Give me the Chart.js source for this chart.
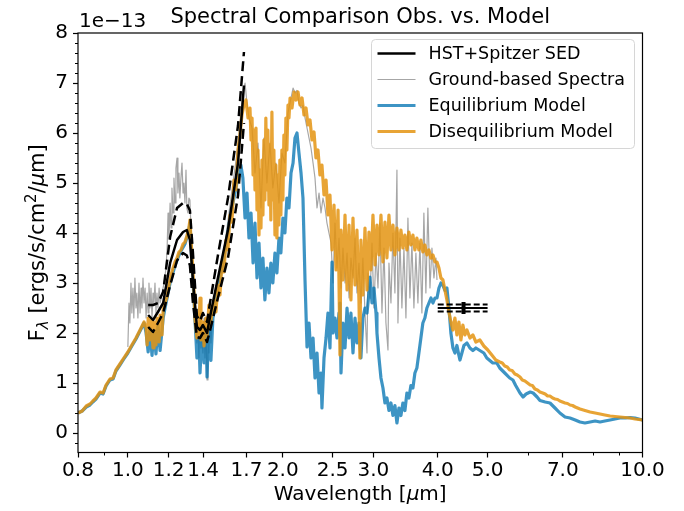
<!DOCTYPE html>
<html>
<head>
<meta charset="utf-8">
<script src="https://cdn.jsdelivr.net/npm/chart.js@4.4.1/dist/chart.umd.min.js"></script>
<style>
  html, body { margin: 0; padding: 0; background: #fff; }
  canvas { display: block; }
</style>
</head>
<body>
<canvas id="myChart" width="684" height="511"></canvas>
<script>
// =====================
// DATA, units: micron, 1e-13 ergs/s/cm^2/micron
// =====================

// disequilibrium model [wavelength, flux]
const diseqModel = [
  [0.800,0.40],[0.815,0.44],[0.830,0.54],[0.844,0.58],[0.855,0.64],[0.867,0.70],[0.883,0.82],[0.895,0.80],
  [0.907,0.96],[0.923,1.08],[0.936,1.10],[0.948,1.26],[0.965,1.38],[0.982,1.50],[1.000,1.62],[1.018,1.76],
  [1.037,1.90],[1.056,2.06],[1.075,2.22],[1.085,2.10],[1.090,1.76],[1.095,2.30],[1.104,1.86],[1.109,2.26],
  [1.119,1.70],[1.124,2.22],[1.134,1.76],[1.139,2.30],[1.150,1.82],[1.155,2.36],[1.165,1.96],[1.171,2.46],
  [1.181,2.60],[1.192,2.74],[1.202,2.96],[1.213,3.16],[1.224,3.30],[1.235,3.42],[1.246,3.50],[1.257,3.62],
  [1.268,3.66],[1.280,3.78],[1.291,3.82],[1.302,3.94],[1.314,4.10],[1.320,4.26],[1.326,3.90],[1.332,3.56],
  [1.344,2.86],[1.350,2.30],[1.362,1.90],[1.374,2.16],[1.381,2.70],[1.387,1.86],[1.399,2.22],[1.406,1.74],
  [1.418,2.30],[1.425,1.94],[1.437,2.56],[1.444,2.10],[1.457,2.42],[1.470,2.66],[1.483,2.42],[1.496,2.96],
  [1.510,2.76],[1.524,3.42],[1.537,3.22],[1.551,3.86],[1.565,3.66],[1.579,4.36],[1.593,4.22],[1.608,5.06],
  [1.622,4.86],[1.637,5.66],[1.651,5.96],[1.666,6.36],[1.681,6.56],[1.696,6.66],[1.712,6.30],[1.727,6.50],
  [1.735,5.86],[1.743,6.30],[1.751,5.16],[1.758,6.06],[1.766,4.86],[1.774,6.10],[1.782,4.46],[1.790,5.66],
  [1.798,3.96],[1.806,5.26],[1.814,4.10],[1.822,5.46],[1.830,4.36],[1.838,5.86],[1.846,4.66],[1.854,6.30],
  [1.863,4.86],[1.871,6.06],[1.880,4.56],[1.888,5.76],[1.896,4.26],[1.905,6.42],[1.913,4.66],[1.922,5.66],
  [1.931,3.96],[1.939,5.36],[1.948,3.90],[1.957,5.16],[1.966,4.16],[1.974,5.46],[1.983,4.36],[1.992,5.66],
  [2.001,4.66],[2.010,5.96],[2.019,5.16],[2.028,6.30],[2.037,5.66],[2.047,6.56],[2.056,6.30],[2.066,6.70],
  [2.084,6.50],[2.103,6.82],[2.122,6.66],[2.141,6.82],[2.160,6.56],[2.180,6.70],[2.199,6.36],[2.219,6.50],
  [2.239,6.16],[2.259,6.26],[2.279,5.86],[2.300,6.02],[2.320,5.50],[2.341,5.66],[2.362,5.16],[2.383,5.36],
  [2.405,4.76],[2.427,5.06],[2.448,4.36],[2.470,4.76],[2.493,3.66],[2.515,4.56],[2.538,3.26],[2.561,4.46],
  [2.583,1.56],[2.595,4.06],[2.618,3.06],[2.642,4.36],[2.666,2.86],[2.690,4.16],[2.713,2.66],[2.738,4.30],
  [2.763,2.96],[2.787,4.06],[2.812,2.66],[2.824,1.50],[2.837,3.86],[2.862,2.76],[2.889,4.10],[2.915,2.86],
  [2.941,4.02],[2.967,3.26],[2.994,4.36],[3.021,3.36],[3.048,4.16],[3.076,3.56],[3.103,4.36],[3.131,3.42],
  [3.159,4.22],[3.187,3.50],[3.216,4.36],[3.245,3.66],[3.274,4.16],[3.303,3.56],[3.333,4.10],[3.363,3.66],
  [3.393,4.06],[3.423,3.70],[3.454,3.96],[3.485,3.66],[3.516,4.02],[3.548,3.76],[3.580,3.96],[3.612,3.66],
  [3.644,3.90],[3.677,3.66],[3.710,3.86],[3.743,3.62],[3.777,3.76],[3.811,3.56],[3.846,3.66],[3.881,3.50],
  [3.916,3.56],[3.951,3.42],[3.987,3.42],[4.022,3.30],[4.058,3.10],[4.095,3.06],[4.131,2.86],[4.168,2.66],
  [4.206,2.42],[4.243,2.22],[4.282,2.06],[4.320,2.30],[4.359,1.96],[4.398,2.22],[4.438,1.86],[4.477,2.16],
  [4.518,1.96],[4.559,2.06],[4.620,1.90],[4.682,1.96],[4.745,1.82],[4.830,1.86],[4.917,1.74],[5.005,1.66],
  [5.096,1.56],[5.187,1.46],[5.280,1.42],[5.34,1.40],[5.40,1.34],[5.46,1.32],[5.52,1.26],[5.58,1.25],
  [5.65,1.18],[5.71,1.16],[5.78,1.12],[5.84,1.06],[5.91,1.04],[5.98,1.00],[6.05,0.96],[6.11,0.95],
  [6.18,0.88],[6.25,0.86],[6.32,0.82],[6.40,0.80],[6.47,0.78],[6.54,0.74],[6.61,0.74],[6.69,0.70],
  [6.76,0.68],[6.84,0.67],[6.91,0.64],[6.99,0.62],[7.07,0.60],[7.15,0.59],[7.23,0.56],[7.31,0.55],
  [7.40,0.52],[7.48,0.50],[7.56,0.48],[7.73,0.45],[7.91,0.42],[8.09,0.40],[8.27,0.38],[8.45,0.36],
  [8.65,0.34],[8.84,0.33],[9.04,0.32],[9.25,0.31],[9.46,0.30],[9.67,0.28],[10.0,0.26]
];

// equilibrium model [wavelength, flux]
const equilModel = [
  [0.800,0.40],[0.815,0.44],[0.830,0.52],[0.844,0.56],[0.855,0.62],[0.867,0.68],[0.883,0.80],[0.895,0.78],
  [0.907,0.94],[0.923,1.06],[0.936,1.08],[0.948,1.24],[0.965,1.36],[0.982,1.48],[1.000,1.60],[1.018,1.74],
  [1.037,1.88],[1.056,2.04],[1.075,2.20],[1.085,2.00],[1.095,1.62],[1.104,2.10],[1.114,1.55],[1.124,2.05],
  [1.134,1.58],[1.144,2.15],[1.155,1.65],[1.165,2.05],[1.171,2.30],[1.181,2.50],[1.208,3.00],[1.235,3.35],
  [1.262,3.60],[1.291,3.78],[1.314,4.05],[1.320,4.20],[1.332,3.40],[1.344,2.70],[1.356,1.90],[1.362,1.50],
  [1.374,1.90],[1.381,1.20],[1.393,2.00],[1.406,1.40],[1.418,2.10],[1.425,1.12],[1.437,2.20],[1.450,1.45],
  [1.463,2.30],[1.476,2.50],[1.496,2.90],[1.517,3.20],[1.537,3.50],[1.558,3.90],[1.579,4.30],[1.600,4.60],
  [1.622,4.90],[1.644,5.20],[1.658,5.36],[1.673,5.10],[1.689,4.30],[1.704,4.80],[1.719,3.90],[1.735,4.40],
  [1.751,3.40],[1.766,4.20],[1.782,3.10],[1.798,3.80],[1.814,2.90],[1.830,3.50],[1.846,2.66],[1.863,3.30],
  [1.880,2.80],[1.896,3.40],[1.913,3.00],[1.931,3.60],[1.948,3.20],[1.966,3.90],[1.983,3.60],[2.001,4.30],
  [2.019,4.00],[2.037,4.70],[2.056,4.50],[2.075,5.20],[2.094,5.40],[2.112,5.90],[2.131,6.00],[2.150,5.60],
  [2.170,5.20],[2.189,4.70],[2.209,3.06],[2.229,1.72],[2.249,2.20],[2.269,1.50],[2.290,1.90],[2.310,1.10],
  [2.331,1.60],[2.352,0.80],[2.373,1.20],[2.383,0.50],[2.405,1.50],[2.427,1.90],[2.448,2.40],[2.470,1.70],
  [2.493,3.42],[2.504,2.00],[2.526,2.30],[2.549,1.90],[2.572,2.40],[2.583,2.60],[2.595,1.20],[2.618,2.20],
  [2.642,1.70],[2.666,2.50],[2.690,1.90],[2.713,2.40],[2.738,1.60],[2.763,2.30],[2.787,1.80],[2.812,2.20],
  [2.837,1.50],[2.862,2.30],[2.889,2.50],[2.915,2.40],[2.941,2.80],[2.954,3.12],[2.981,2.60],[3.007,2.90],
  [3.035,2.40],[3.048,2.00],[3.076,1.50],[3.103,1.10],[3.131,0.90],[3.159,0.60],[3.187,0.70],[3.216,0.45],
  [3.245,0.60],[3.274,0.35],[3.303,0.55],[3.333,0.20],[3.363,0.50],[3.393,0.35],[3.423,0.60],[3.454,0.45],
  [3.485,0.80],[3.516,0.70],[3.548,0.95],[3.580,0.90],[3.612,1.20],[3.644,1.30],[3.677,1.60],[3.710,1.90],
  [3.743,2.20],[3.777,2.30],[3.811,2.50],[3.846,2.60],[3.881,2.70],[3.916,2.60],[3.951,2.70],[3.987,2.70],
  [4.022,2.90],[4.058,3.00],[4.095,2.95],[4.131,2.85],[4.168,2.90],[4.206,2.50],[4.243,2.00],[4.282,1.70],
  [4.320,1.60],[4.359,1.75],[4.398,1.55],[4.418,1.46],[4.457,1.60],[4.498,1.75],[4.559,1.80],[4.620,1.70],
  [4.682,1.65],[4.745,1.70],[4.830,1.65],[4.917,1.60],[4.983,1.50],[5.050,1.45],[5.118,1.40],[5.210,1.40],
  [5.280,1.30],[5.40,1.20],[5.52,1.10],[5.60,1.06],[5.67,0.95],[5.78,0.80],[5.86,0.72],[5.94,0.78],
  [6.05,0.82],[6.13,0.80],[6.24,0.72],[6.32,0.65],[6.47,0.62],[6.61,0.60],[6.76,0.50],[6.91,0.40],
  [7.07,0.32],[7.23,0.30],[7.40,0.26],[7.56,0.22],[7.73,0.20],[7.91,0.22],[8.09,0.24],[8.27,0.22],
  [8.45,0.24],[8.65,0.26],[8.84,0.28],[9.04,0.30],[9.25,0.30],[9.46,0.31],[9.67,0.30],[10.0,0.26]
];

// ground-based spectra [wavelength, flux]
const groundSpec = [
  [1.000,1.72],[1.005,2.60],[1.009,2.20],[1.014,3.00],[1.018,2.40],[1.023,2.90],[1.027,2.30],[1.032,3.10],
  [1.037,2.50],[1.041,2.80],[1.046,2.30],[1.051,3.00],[1.056,2.40],[1.061,2.90],[1.065,2.50],[1.070,3.10],
  [1.075,2.60],[1.080,2.90],[1.085,2.30],[1.090,2.80],[1.095,2.40],[1.099,3.00],[1.104,2.50],[1.109,2.90],
  [1.114,2.30],[1.119,2.80],[1.124,2.60],[1.129,3.00],[1.134,2.40],[1.139,2.80],[1.144,2.50],[1.150,2.90],
  [1.155,2.60],[1.165,2.80],[1.176,3.00],[1.186,3.30],[1.192,3.70],[1.197,4.40],[1.202,3.90],[1.208,4.60],
  [1.213,4.10],[1.218,4.90],[1.224,4.40],[1.229,5.10],[1.235,4.60],[1.240,5.30],[1.246,5.50],[1.251,4.80],
  [1.257,5.20],[1.262,4.70],[1.268,5.10],[1.274,5.40],[1.280,4.80],[1.285,5.00],[1.291,4.60],[1.297,5.26],
  [1.302,4.50],[1.308,4.40],[1.314,4.70],[1.320,4.66],[1.326,4.10],[1.332,3.50],[1.338,2.80],[1.344,2.40],
  [1.350,2.00],[1.356,2.30],[1.362,1.80],[1.368,2.20],[1.374,1.50],[1.381,2.40],[1.387,1.70],[1.393,2.10],
  [1.399,1.60],[1.406,2.30],[1.412,1.50],[1.418,2.20],[1.425,1.06],[1.431,2.00],[1.437,1.60],[1.444,2.40],
  [1.450,1.80],[1.457,2.30],[1.463,2.60],[1.476,2.80],[1.490,3.00],[1.503,3.10],[1.517,3.40],[1.530,3.60],
  [1.544,3.80],[1.558,4.10],[1.572,4.40],[1.586,4.70],[1.600,5.00],[1.615,5.30],[1.629,5.60],[1.644,6.00],
  [1.658,6.40],[1.673,6.80],[1.689,7.00],[1.704,6.60],[1.719,6.30],[1.743,6.10],[1.766,5.20],[1.790,5.80],
  [1.814,4.50],[1.838,5.90],[1.863,5.00],[1.888,5.80],[1.913,4.90],[1.939,5.40],[1.966,4.60],[1.992,5.60],
  [2.019,5.40],[2.047,6.40],[2.075,6.70],[2.094,6.90],[2.112,6.80],[2.131,6.85],[2.150,6.60],[2.170,6.50],
  [2.189,6.55],[2.209,6.30],[2.229,6.10],[2.249,5.90],[2.269,5.70],[2.290,5.40],[2.310,5.10],[2.331,4.50],
  [2.352,4.80],[2.373,4.40],[2.394,4.70],[2.416,4.50],[2.437,4.20],[2.459,4.00],[2.482,3.80],[2.504,3.00],
  [2.526,4.20],[2.549,3.30],[2.572,3.90],[2.595,2.90],[2.618,3.70],[2.642,3.00],[2.666,3.60],[2.690,2.70],
  [2.713,3.50],[2.738,3.10],[2.763,3.90],[2.787,2.80],[2.812,3.40],[2.837,2.60],[2.862,3.50],[2.889,2.40],
  [2.915,1.60],[2.928,3.20],[2.954,2.70],[2.981,3.80],[3.007,2.50],[3.035,3.60],[3.062,2.90],[3.089,4.20],
  [3.117,2.40],[3.145,3.70],[3.173,2.20],[3.202,1.66],[3.216,3.40],[3.245,2.60],[3.274,4.00],[3.303,2.80],
  [3.333,5.26],[3.348,2.20],[3.378,3.90],[3.408,2.50],[3.439,3.70],[3.470,2.30],[3.501,4.30],[3.532,2.70],
  [3.564,3.80],[3.596,2.50],[3.628,3.60],[3.661,2.60],[3.694,3.80],[3.727,2.40],[3.760,4.40],[3.794,2.80],
  [3.828,4.50],[3.864,2.90],[3.898,3.70],[3.933,3.10],[3.969,3.50],[3.987,3.06]
];

// HST+Spitzer SED (near-IR part) with upper / lower envelopes
const sedWave  = [1.095,1.119,1.144,1.171,1.208,1.246,1.280,1.302,1.320,1.338,1.362,1.381,1.399,1.425,1.444,1.496,1.565,1.637,1.681];
const sedFlux  = [2.36,2.26,2.42,2.60,3.40,3.86,4.02,4.06,3.86,3.06,2.12,2.06,2.16,2.00,2.32,3.10,4.06,5.40,6.95];
const sedUpper = [2.56,2.56,2.60,2.82,3.92,4.50,4.60,4.58,4.45,3.60,2.34,2.24,2.40,2.22,2.60,3.55,4.70,6.15,7.62];
const sedLower = [2.12,2.02,2.20,2.40,2.95,3.45,3.60,3.55,3.35,2.60,1.92,1.90,2.00,1.82,2.05,2.70,3.50,4.75,6.20];

// Spitzer 4.5 micron point (band 4-5 micron)
const photWave  = [4.0, 5.0];
const photFlux  = [2.50, 2.50];
const photUpper = [2.57, 2.57];
const photLower = [2.43, 2.43];
const photErrWave = [4.49, 4.49];
const photErrFlux = [2.38, 2.62];

// axes
const xTicks = [0.8, 1.0, 1.2, 1.4, 1.7, 2.0, 2.5, 3.0, 4.0, 5.0, 7.0, 10.0];
const xMinor = [0.9, 6.0, 8.0, 9.0];
const yTicks = [0, 1, 2, 3, 4, 5, 6, 7, 8];
const yMinor = [-0.2, 0.2, 0.4, 0.6, 0.8, 1.2, 1.4, 1.6, 1.8, 2.2, 2.4, 2.6, 2.8, 3.2, 3.4, 3.6, 3.8,
                4.2, 4.4, 4.6, 4.8, 5.2, 5.4, 5.6, 5.8, 6.2, 6.4, 6.6, 6.8, 7.2, 7.4, 7.6, 7.8];

const titleText = "Spectral Comparison Obs. vs. Model";
const offsetText = "1e\u221213";

// colours
const cBlack  = "#000000";
const cGray   = "rgba(128,128,128,0.7)";
const cBlue   = "rgba(0,114,178,0.76)";
const cOrange = "rgba(228,148,18,0.85)";

// =====================
// HELPERS
// =====================
function pairs(arr) { return arr.map(p => ({x: p[0], y: p[1]})); }
function zipPts(xs, ys) { return xs.map((x, i) => ({x: x, y: ys[i]})); }

const FONT = "'DejaVu Sans', sans-serif";
Chart.defaults.font.family = FONT;
Chart.defaults.color = "#000";

// draw a row of text pieces (sub/superscripts), centred on cx
function drawRich(ctx, parts, cx, baseY) {
    let w = 0;
    parts.forEach(p => { ctx.font = (p.it ? "italic " : "") + p.size + "px " + FONT; p.w = ctx.measureText(p.t).width; w += p.w; });
    let x = cx - w / 2;
    ctx.textAlign = "left";
    ctx.textBaseline = "alphabetic";
    parts.forEach(p => {
        ctx.font = (p.it ? "italic " : "") + p.size + "px " + FONT;
        ctx.fillText(p.t, x, baseY + (p.dy || 0));
        x += p.w;
    });
}

// titles, frame, minor ticks, legend
const decor = {
    id: "decor",
    afterDraw(chart) {
        const ctx = chart.ctx;
        const a = chart.chartArea;
        const xs = chart.scales.x, ys = chart.scales.y;
        ctx.save();

        // frame
        ctx.strokeStyle = "#000";
        ctx.lineWidth = 1.2;
        ctx.strokeRect(a.left, a.top, a.right - a.left, a.bottom - a.top);

        // minor ticks
        ctx.lineWidth = 1;
        ctx.beginPath();
        yMinor.forEach(v => { const p = Math.round(ys.getPixelForValue(v)) + 0.5; ctx.moveTo(a.left - 3, p); ctx.lineTo(a.left, p); });
        xMinor.forEach(v => { const p = Math.round(xs.getPixelForValue(v)) + 0.5; ctx.moveTo(p, a.bottom); ctx.lineTo(p, a.bottom + 3); });
        ctx.stroke();

        // title + offset text
        ctx.fillStyle = "#000";
        ctx.textBaseline = "alphabetic";
        ctx.textAlign = "center";
        ctx.font = "21px " + FONT;
        ctx.fillText(titleText, (a.left + a.right) / 2, 22.5);
        ctx.textAlign = "left";
        ctx.font = "20px " + FONT;
        ctx.fillText(offsetText, a.left + 1, 27);

        // x label
        drawRich(ctx, [
            {t: "Wavelength [", size: 20},
            {t: "\u03bc", size: 20, it: true},
            {t: "m]", size: 20}
        ], (a.left + a.right) / 2, 500);

        // y label (rotated)
        ctx.save();
        ctx.translate(44, (a.top + a.bottom) / 2);
        ctx.rotate(-Math.PI / 2);
        drawRich(ctx, [
            {t: "F", size: 21},
            {t: "\u03bb", size: 15, dy: 4, it: true},
            {t: " [ergs/s/cm", size: 21},
            {t: "2", size: 15, dy: -8},
            {t: "/", size: 21},
            {t: "\u03bc", size: 21, it: true},
            {t: "m]", size: 21}
        ], 0, 0);
        ctx.restore();

        // legend
        const bx = a.right - 8, by = a.top + 6.5;
        ctx.beginPath();
        ctx.roundRect(bx - 263, by, 263, 109, 4);
        ctx.fillStyle = "rgba(255,255,255,0.8)";
        ctx.fill();
        ctx.strokeStyle = "#d6d6d6";
        ctx.lineWidth = 1;
        ctx.stroke();
        const items = chart.data.datasets.filter(d => d.label);
        ctx.font = "17.5px " + FONT;
        ctx.textBaseline = "middle";
        ctx.textAlign = "left";
        items.forEach((d, i) => {
            const yy = by + 14 + i * 26;
            ctx.strokeStyle = d.borderColor;
            ctx.lineWidth = d.borderWidth;
            ctx.setLineDash([]);
            ctx.beginPath();
            ctx.moveTo(bx - 257, yy);
            ctx.lineTo(bx - 219, yy);
            ctx.stroke();
            ctx.fillStyle = "#000";
            ctx.fillText(d.label, bx - 206, yy + 1);
        });
        ctx.restore();
    }
};

// =====================
// CHART
// =====================
const ctx = document.getElementById("myChart");

const dashed = [10, 5];
const thinDash = [6, 3];

const data = {
    datasets: [
        { label: "HST+Spitzer SED", data: zipPts(sedWave, sedFlux), borderColor: cBlack, borderWidth: 2.5, order: 0 },
        { label: "Ground-based Spectra", data: pairs(groundSpec), borderColor: cGray, borderWidth: 1.2, order: 5 },
        { label: "Equilibrium Model", data: pairs(equilModel), borderColor: cBlue, borderWidth: 3.2, order: 4 },
        { label: "Disequilibrium Model", data: pairs(diseqModel), borderColor: cOrange, borderWidth: 3.2, order: 3 },
        { data: zipPts(sedWave, sedUpper), borderColor: cBlack, borderWidth: 2.5, borderDash: dashed, order: 0 },
        { data: zipPts(sedWave, sedLower), borderColor: cBlack, borderWidth: 2.5, borderDash: dashed, order: 0 },
        { data: zipPts(photWave, photFlux), borderColor: cBlack, borderWidth: 1.8, order: 0 },
        { data: zipPts(photWave, photUpper), borderColor: cBlack, borderWidth: 1.8, borderDash: thinDash, order: 0 },
        { data: zipPts(photWave, photLower), borderColor: cBlack, borderWidth: 1.8, borderDash: thinDash, order: 0 },
        { data: zipPts(photErrWave, photErrFlux), borderColor: cBlack, borderWidth: 4, order: 0 }
    ]
};

const tickGrid = { drawOnChartArea: false, drawTicks: true, tickLength: 5, tickColor: "#000", tickWidth: 1.2 };

const myLineChart = new Chart(ctx, {
    type: "line",
    data: data,
    options: {
        responsive: false,
        animation: false,
        devicePixelRatio: 1,
        events: [],
        layout: { padding: { left: 0, right: 41.5, top: 33, bottom: 0 } },
        elements: {
            point: { radius: 0 },
            line: { tension: 0, borderJoinStyle: "round", borderCapStyle: "butt", fill: false }
        },
        plugins: {
            legend: { display: false },
            title: { display: false },
            tooltip: { enabled: false }
        },
        scales: {
            x: {
                type: "logarithmic",
                min: 0.8,
                max: 10,
                afterBuildTicks: s => { s.ticks = xTicks.map(v => ({ value: v })); },
                afterFit: s => { s.height = 58.5; },
                ticks: {
                    autoSkip: false, maxRotation: 0, padding: 1, color: "#000",
                    font: { size: 20 },
                    callback: v => Number(v).toFixed(1)
                },
                grid: tickGrid,
                border: { display: false }
            },
            y: {
                type: "linear",
                min: -0.39,
                max: 8,
                afterBuildTicks: s => { s.ticks = yTicks.map(v => ({ value: v })); },
                afterFit: s => { s.width = 78; },
                ticks: {
                    padding: 5, color: "#000",
                    font: { size: 20 },
                    callback: v => String(v)
                },
                grid: tickGrid,
                border: { display: false }
            }
        }
    },
    plugins: [decor]
});
</script>
</body>
</html>
